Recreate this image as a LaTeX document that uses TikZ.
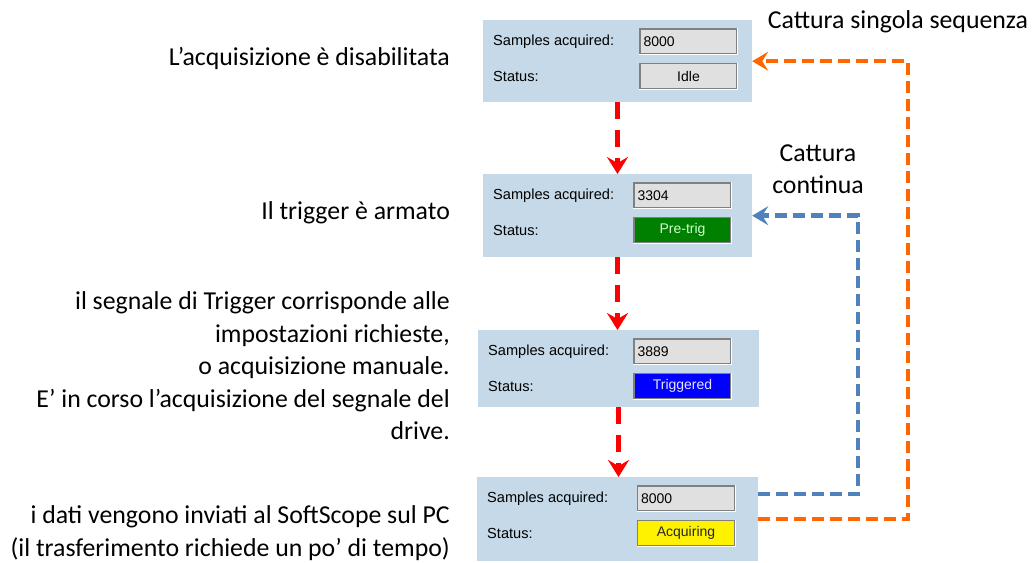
\documentclass[tikz,border=0pt]{standalone}
\usepackage{fontspec}
\setmainfont{Carlito}
\newfontfamily\panelfont{Liberation Sans}
\usetikzlibrary{arrows.meta}
\definecolor{panelblue}{RGB}{197,217,232}
\definecolor{fieldgray}{RGB}{224,224,224}
\definecolor{loopblue}{RGB}{79,129,189}
\definecolor{looporange}{RGB}{255,102,0}
\definecolor{pregreen}{RGB}{0,128,0}
\tikzset{
  panel/.style={fill=panelblue, inner sep=0pt},
  field/.style={fill=fieldgray, draw=black!50, line width=1.2pt, text width=90pt,
    minimum height=25pt, inner xsep=3.5pt, inner ysep=0pt,
    font=\panelfont\fontsize{14}{15}\selectfont},
  tag/.style={anchor=west, inner sep=0pt, font=\panelfont\fontsize{14.6}{16}\selectfont},
  idle/.style={field, align=center},
  pretrig/.style={field, align=center, fill=pregreen, text=white!80!green},
  trig/.style={field, align=center, fill=blue, text=white!90!blue},
  acq/.style={field, align=center, fill=yellow, text=black!85},
  caption/.style={anchor=east, align=right, inner sep=0pt, font=\fontsize{25.8}{32.5}\selectfont},
  flow/.style={red, line width=5pt, dash pattern=on 17pt off 11pt,
    -{Stealth[length=17pt, width=21pt, inset=6pt]}},
  loopline/.style={line width=4.5pt, dash pattern=on 12pt off 6pt,
    -{Stealth[length=16pt, width=19pt, inset=6pt]}}
}
\begin{document}
\begin{tikzpicture}[x=1pt, y=-1pt]
    \useasboundingbox (0,0) rectangle (1032,562);
    % the four status panels
    \foreach \n/\cx/\ty/\w/\h/\fx/\val/\stat/\sty in {
      1/617.5/20/269/82/688.5/8000/Idle/idle,
      2/617.5/174/269/83/682.5/3304/Pre-trig/pretrig,
      3/618.5/330/281/77/682.5/3889/Triggered/trig,
      4/617.5/477/281/84/686/8000/Acquiring/acq}
    {
      \node [panel, minimum width=\w pt, minimum height=\h pt, anchor=north] (p\n) at (\cx,\ty) {};
      \node [tag] (a\n) at (\cx-\w/2+10,\ty+21.5) {Samples acquired:};
      \node [tag] (b\n) at (\cx-\w/2+10,\ty+56) {Status:};
      \node [field, align=left] (v\n) at (\fx,\ty+21.5) {\val};
      \node [\sty] (s\n) at (\fx,\ty+56) {\stat};
      \foreach \f in {v\n,s\n}
      \draw [white, line width=1.2pt] (\f.south west) to (\f.south east) to (\f.north east);
    }
    % what each state means
    \node [caption] (c1) at (450,58) {L’acquisizione è disabilitata};
    \node [caption] (c2) at (450,213) {Il trigger è armato};
    \node [caption] (c3) at (450,366) {il segnale di Trigger corrisponde alle\\
      impostazioni richieste,\\ o acquisizione manuale.\\
      E’ in corso l'acquisizione del segnale del\\ drive.};
    \node [caption] (c4) at (450,533) {i dati vengono inviati al SoftScope sul PC\\
      (il trasferimento richiede un po’ di tempo)};
    \node [inner sep=0pt, font=\fontsize{25.8}{32.5}\selectfont] (singola) at (898,22) {Cattura singola sequenza};
    \node [inner sep=0pt, align=center, font=\fontsize{25.8}{32.5}\selectfont] (continua) at (818,169) {Cattura\\ continua};
    % sequence and return paths
    \foreach \i/\j in {1/2,2/3,3/4}
    \draw [flow] (p\i.south) to (p\i.south |- p\j.north);
    \draw [loopline, looporange] (p4.east) -- ++(150,0) |- (p1.east);
    \draw [loopline, loopblue] ([yshift=25pt]p4.east) -- ++(100,0) |- (p2.east);
\end{tikzpicture}
\end{document}
